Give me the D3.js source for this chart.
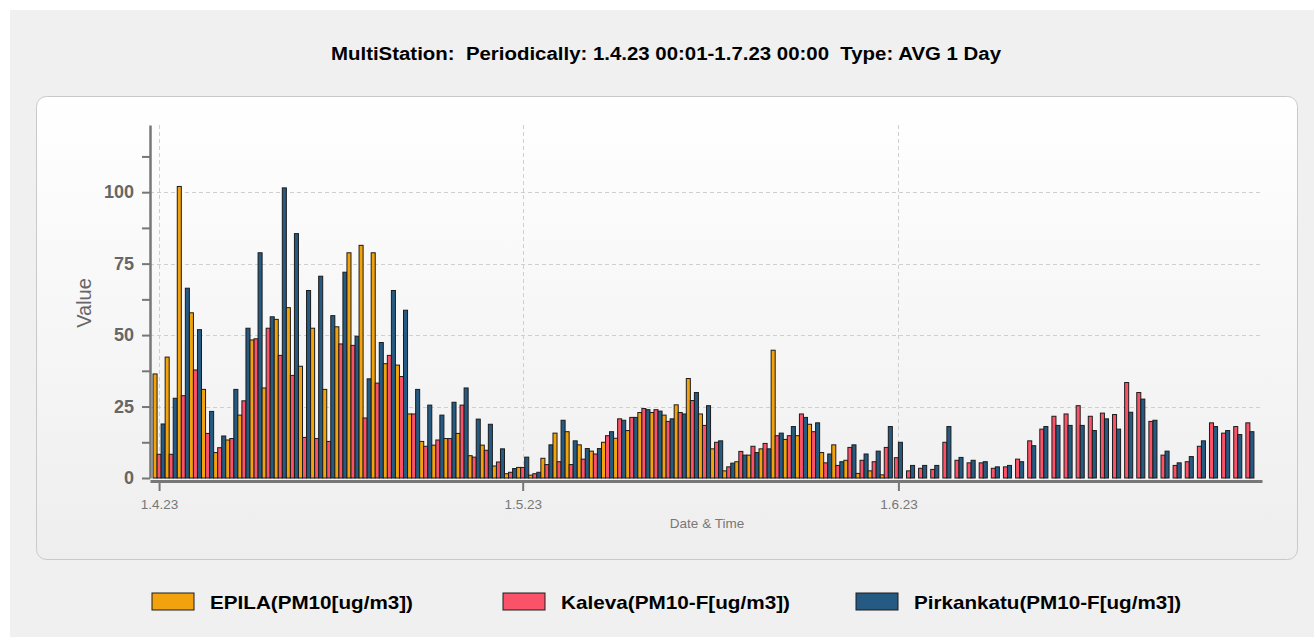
<!DOCTYPE html>
<meta charset="utf-8">
<style>
body { margin: 0; background: #fff; }
svg { display: block; font-family: "Liberation Sans", Arial, sans-serif; }
.grid line { stroke: #cfcfcf; stroke-dasharray: 4,3; }
.bar { stroke: #1c1c1c; stroke-width: 1px; }
</style>
<body>
<script src="https://d3js.org/d3.v7.min.js"></script>
<script>

var seriesNames = ["EPILA(PM10[ug/m3])", "Kaleva(PM10-F[ug/m3])", "Pirkankatu(PM10-F[ug/m3])"];
var seriesColors = ["#f2a20c", "#fa5268", "#255a82"];

// daily averages, 1.4.23 .. 30.6.23 (EPILA has no data for June)
var epila = [36.4, 42.3, 102, 57.8, 31.0, 8.9, 13.3, 22.0, 48.3, 31.5,
  55.5, 59.6, 39.1, 52.4, 31.0, 52.9, 78.8, 81.4, 78.8, 40.0,
  39.5, 22.4, 12.8, 11.5, 13.8, 15.6, 7.8, 11.5, 4.2, 1.5,
  3.7, 1.0, 6.9, 15.7, 16.2, 11.6, 9.4, 12.5, 13.9, 16.6,
  22.9, 22.9, 22.0, 25.6, 34.8, 22.4, 10.2, 2.5, 5.7, 8.0,
  10.2, 44.7, 13.5, 14.8, 18.8, 8.9, 11.6, 6.2, 1.6, 2.5, 1.1];

var kaleva = [8.3, 8.3, 28.8, 37.8, 15.6, 10.6, 13.8, 27.0, 48.7, 52.4,
  42.9, 35.9, 14.2, 13.8, 12.8, 46.9, 46.4, 21.0, 33.2, 42.9,
  35.5, 22.4, 11.1, 13.3, 13.8, 25.5, 7.3, 9.7, 5.6, 2.0,
  3.7, 1.5, 4.7, 5.7, 4.7, 6.6, 8.4, 14.8, 20.7, 21.2,
  24.3, 23.9, 19.8, 22.9, 27.1, 18.4, 12.5, 3.9, 9.3, 11.1,
  12.1, 14.8, 14.8, 22.4, 16.2, 5.3, 4.4, 10.7, 6.2, 5.7, 10.7,
  7.1, 2.5, 3.4, 3.0, 12.5, 6.2, 5.3, 5.3, 3.4, 3.9,
  6.6, 13.0, 17.1, 21.6, 22.4, 25.3, 21.6, 22.7, 22.2, 33.4,
  29.9, 19.8, 8.0, 4.4, 5.7, 11.1, 19.3, 15.7, 18.0, 19.3];

var pirkankatu = [18.9, 27.9, 66.4, 51.9, 23.3, 14.7, 31.0, 52.4, 78.8, 56.4,
  101.5, 85.5, 65.6, 70.6, 56.8, 72.0, 49.6, 34.7, 47.4, 65.6,
  58.7, 31.0, 25.5, 22.0, 26.5, 31.5, 20.6, 18.8, 10.2, 3.3,
  7.3, 2.0, 11.6, 20.2, 13.0, 10.3, 10.3, 16.2, 20.2, 21.2,
  23.9, 23.4, 20.7, 22.4, 29.9, 25.3, 13.0, 5.2, 8.0, 8.9,
  10.2, 15.7, 18.0, 21.2, 19.3, 8.4, 5.7, 11.6, 8.4, 9.4, 18.0,
  12.5, 4.4, 4.4, 4.4, 18.0, 7.2, 6.2, 5.7, 3.9, 4.4,
  5.7, 11.3, 18.0, 18.4, 18.4, 18.4, 16.6, 20.7, 17.1, 23.0,
  27.6, 20.2, 9.4, 5.3, 7.5, 13.0, 18.0, 16.6, 15.2, 16.2];

var days = d3.timeDay.range(new Date(2023, 3, 1), new Date(2023, 6, 1));
var xTicks = [new Date(2023, 3, 1), new Date(2023, 4, 1), new Date(2023, 5, 1)];
var yTicks = [0, 25, 50, 75, 100];
var yMinorTicks = [12.5, 37.5, 62.5, 87.5, 112.5];

var seriesValues = [epila, kaleva, pirkankatu];

var width = 1314, height = 637;

var x = d3.scaleTime()
    .domain([new Date(2023, 2, 31, 6), new Date(2023, 6, 1)])
    .range([150, 1262]);
var y = d3.scaleLinear().domain([0, 123.5]).range([478, 125]);

var bw = (x(days[1]) - x(days[0])) / 3;

var svg = d3.select("body").append("svg")
    .attr("width", width)
    .attr("height", height);

var defs = svg.append("defs");
var grad = defs.append("linearGradient")
    .attr("id", "panelGrad")
    .attr("x1", 0).attr("y1", 0).attr("x2", 0).attr("y2", 1);
grad.append("stop").attr("offset", "0%").attr("stop-color", "#ffffff");
grad.append("stop").attr("offset", "100%").attr("stop-color", "#eeeeee");

svg.append("rect")
    .attr("x", 10).attr("y", 10)
    .attr("width", width - 10).attr("height", height - 10)
    .attr("fill", "#f0f0f0");

svg.append("rect")
    .attr("x", 36.5).attr("y", 96.5)
    .attr("width", 1261).attr("height", 463)
    .attr("rx", 10)
    .attr("fill", "url(#panelGrad)")
    .attr("stroke", "#c9c9c9");

svg.append("text")
    .attr("x", 666).attr("y", 60)
    .attr("text-anchor", "middle")
    .attr("textLength", 670)
    .attr("lengthAdjust", "spacingAndGlyphs")
    .style("white-space", "pre")
    .style("font-size", "18px")
    .style("font-weight", "bold")
    .text("MultiStation:  Periodically: 1.4.23 00:01-1.7.23 00:00  Type: AVG 1 Day");

// grid
var grid = svg.append("g").attr("class", "grid");
grid.selectAll(".h")
    .data(yTicks.slice(1))
  .enter().append("line")
    .attr("x1", 150).attr("x2", 1262)
    .attr("y1", function(d) { return Math.round(y(d)) + 0.5; })
    .attr("y2", function(d) { return Math.round(y(d)) + 0.5; });
grid.selectAll(".v")
    .data(xTicks)
  .enter().append("line")
    .attr("x1", function(d) { return Math.round(x(d)) + 0.5; })
    .attr("x2", function(d) { return Math.round(x(d)) + 0.5; })
    .attr("y1", 125).attr("y2", 478);

// bars
var dayG = svg.append("g").selectAll("g")
    .data(days)
  .enter().append("g")
    .attr("transform", function(d) { return "translate(" + x(d) + ",0)"; });

dayG.each(function(d, i) {
  var present = [];
  seriesValues.forEach(function(vals, k) {
    if (vals[i] != null) present.push({k: k, v: vals[i]});
  });
  var x1 = d3.scaleBand()
      .domain(present.map(function(p) { return p.k; }))
      .range([-present.length * bw / 2, present.length * bw / 2]);
  d3.select(this).selectAll("rect")
      .data(present)
    .enter().append("rect")
      .attr("class", "bar")
      .attr("x", function(p) { return x1(p.k); })
      .attr("width", x1.bandwidth())
      .attr("y", function(p) { return y(p.v); })
      .attr("height", function(p) { return y(0) - y(p.v); })
      .attr("fill", function(p) { return seriesColors[p.k]; });
});

// y axis
var yAxis = svg.append("g")
    .attr("transform", "translate(150,0)")
    .call(d3.axisLeft(y).tickValues(yTicks).tickSize(8).tickSizeOuter(0).tickPadding(8));
yAxis.select(".domain").attr("stroke", "#777").attr("stroke-width", 2.5);
yAxis.selectAll(".tick line").attr("stroke", "#777").attr("stroke-width", 2);
yAxis.selectAll(".tick text")
    .attr("fill", "#666")
    .style("font-size", "18px")
    .style("font-weight", "bold")
    .style("font-family", "'Liberation Sans', Arial, sans-serif");

var yMinor = svg.append("g")
    .attr("transform", "translate(150,0)")
    .call(d3.axisLeft(y).tickValues(yMinorTicks).tickSize(8).tickSizeOuter(0).tickFormat(""));
yMinor.select(".domain").remove();
yMinor.selectAll(".tick line").attr("stroke", "#777").attr("stroke-width", 2);

svg.append("text")
    .attr("transform", "translate(84,303) rotate(-90)")
    .attr("text-anchor", "middle")
    .attr("dy", "0.35em")
    .attr("fill", "#666")
    .style("font-size", "20px")
    .text("Value");

// x axis
var xAxis = svg.append("g")
    .attr("transform", "translate(0,481)")
    .call(d3.axisBottom(x).tickValues(xTicks).tickSize(10).tickSizeOuter(0).tickPadding(8)
      .tickFormat(d3.timeFormat("%-d.%-m.%y")));
xAxis.select(".domain").attr("stroke", "#777").attr("stroke-width", 3);
xAxis.selectAll(".tick line").attr("stroke", "#777").attr("stroke-width", 2);
xAxis.selectAll(".tick text")
    .attr("fill", "#777")
    .style("font-size", "13.5px")
    .style("font-family", "'Liberation Sans', Arial, sans-serif");

svg.append("text")
    .attr("x", 707).attr("y", 528)
    .attr("text-anchor", "middle")
    .attr("fill", "#777")
    .style("font-size", "13.5px")
    .text("Date & Time");

// legend
var legendX = [152, 503, 856];
var legendTextLen = [203, 229, 267];
var legend = svg.append("g").selectAll("g")
    .data(seriesNames)
  .enter().append("g")
    .attr("transform", function(d, i) { return "translate(" + legendX[i] + ",593)"; });
legend.append("rect")
    .attr("width", 42).attr("height", 17)
    .attr("fill", function(d, i) { return seriesColors[i]; })
    .attr("stroke", "#1c1c1c");
legend.append("text")
    .attr("x", 58).attr("y", 16)
    .attr("textLength", function(d, i) { return legendTextLen[i]; })
    .attr("lengthAdjust", "spacingAndGlyphs")
    .style("font-size", "19px")
    .style("font-weight", "bold")
    .text(function(d) { return d; });

</script>
</body>
